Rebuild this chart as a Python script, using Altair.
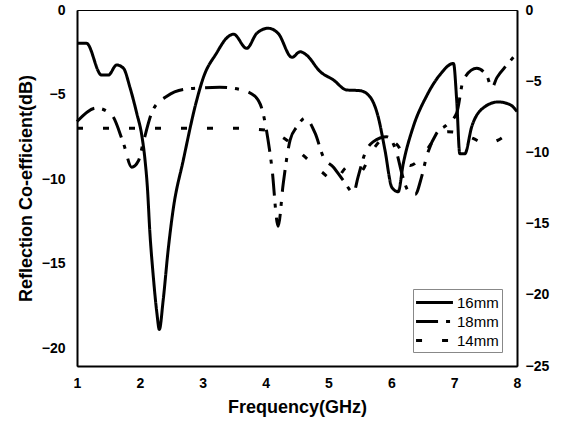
import altair as alt
import pandas as pd

# 16mm (solid)
f16 = [1.0, 1.15, 1.39, 1.5, 1.63, 1.74, 1.84, 1.95, 2.03, 2.08, 2.12, 2.16, 2.21, 2.27, 2.31,
       2.37, 2.45, 2.53, 2.69, 2.9, 3.01, 3.22, 3.38, 3.49, 3.7, 3.86, 4.04, 4.2, 4.42, 4.55,
       4.65, 4.87, 5.08, 5.29, 5.5, 5.66, 5.79, 5.9, 6.01, 6.11, 6.19, 6.35, 6.56, 6.77, 6.99,
       7.04, 7.09, 7.17, 7.28, 7.46, 7.7, 7.89, 8.0]
v16 = [-1.97, -1.97, -3.85, -3.85, -3.25, -3.45, -4.55, -6.1, -7.4, -8.8, -10.5, -13.2, -15.6, -17.9, -18.9,
       -17.2, -14.2, -11.8, -8.9, -5.4, -4.0, -2.55, -1.66, -1.43, -2.27, -1.38, -1.08, -1.38, -2.8, -2.47,
       -2.66, -3.65, -4.14, -4.73, -4.77, -5.13, -6.3, -8.3, -10.5, -10.75, -9.1, -6.9, -5.1, -3.85, -3.16,
       -5.3, -8.5, -8.5, -6.9, -5.8, -5.44, -5.6, -6.0]

# 18mm (dash-dot)
f18 = [1.0, 1.31, 1.55, 1.74, 1.87, 1.98, 2.05, 2.21, 2.43, 2.69, 3.01, 3.27, 3.59, 3.83, 3.96, 4.04,
       4.1, 4.2, 4.28, 4.39, 4.5, 4.63, 4.79, 4.92, 5.08, 5.24, 5.4, 5.47, 5.58, 5.71, 5.93, 6.09,
       6.17, 6.27, 6.38, 6.48, 6.56, 6.72, 6.88, 7.04, 7.15, 7.36, 7.52, 7.6, 7.68, 7.84, 8.0]
v18 = [-6.6, -5.8, -6.2, -7.9, -9.3, -8.9, -7.9, -5.9, -5.1, -4.7, -4.6, -4.57, -4.7, -5.1, -6.1, -7.7,
       -9.3, -12.8, -10.3, -7.7, -6.9, -6.4, -7.3, -8.7, -9.3, -10.1, -10.8, -9.9, -8.5, -7.8, -7.5, -8.5,
       -9.7, -10.7, -10.9, -9.9, -8.7, -7.3, -6.8, -6.1, -4.1, -3.45, -3.9, -4.6, -4.0, -3.25, -2.55]

# 14mm (dotted)
f14 = [1.0, 1.5, 2.0, 2.5, 3.0, 3.5, 4.0, 4.3, 4.6, 4.9, 5.1, 5.3, 5.5, 5.7, 5.9, 6.1, 6.3, 6.5,
       6.7, 6.9, 7.1, 7.3, 7.5, 7.7, 7.9, 8.0]
v14 = [-7.0, -7.0, -7.0, -7.0, -7.0, -7.0, -7.1, -7.6, -8.6, -9.6, -10.1, -9.3, -9.6, -8.3, -7.6, -8.0,
       -9.2, -8.6, -7.6, -7.2, -7.3, -7.6, -7.9, -7.7, -7.2, -7.0]

series_names = ["16mm", "18mm", "14mm"]
x_ticks = [1, 2, 3, 4, 5, 6, 7, 8]
left_ticks = [0, -5, -10, -15, -20]
right_ticks = [0, -5, -10, -15, -20, -25]

rows = []
for name, fs, vs in [("16mm", f16, v16), ("18mm", f18, v18), ("14mm", f14, v14)]:
    for f, v in zip(fs, vs):
        rows.append({"series": name, "freq": f, "val": v})
df = pd.DataFrame(rows)

FONT = "Liberation Sans"

lines = alt.Chart(df).mark_line(color="black", strokeWidth=3, interpolate="monotone").encode(
    x=alt.X("freq:Q", scale=alt.Scale(domain=[1, 8], nice=False, zero=False),
            axis=alt.Axis(values=x_ticks, title="Frequency(GHz)", labelPadding=10, titlePadding=8)),
    y=alt.Y("val:Q", scale=alt.Scale(domain=[-21.06, 0], nice=False, zero=False),
            axis=alt.Axis(values=left_ticks, title="Reflection Co-efficient(dB)", labelPadding=12,
                          titlePadding=6)),
    strokeDash=alt.StrokeDash(
        "series:N", sort=series_names,
        scale=alt.Scale(domain=series_names, range=[[1, 0], [22, 8, 4, 10], [6, 20]]),
        legend=alt.Legend(title=None, orient="none", legendX=336, legendY=279,
                          symbolType="M-2.05,0H2.05", symbolSize=324, symbolStrokeWidth=3,
                          symbolOffset=8, symbolStrokeColor="black", labelFontSize=15,
                          labelFont=FONT, labelColor="black", strokeColor="#888888",
                          fillColor="white", padding=3, rowPadding=0, labelOffset=12)),
)

right_df = pd.DataFrame({"r": [0, -25]})
right = alt.Chart(right_df).mark_point(opacity=0).encode(
    x=alt.value(0),
    y=alt.Y("r:Q", scale=alt.Scale(domain=[-25, 0], nice=False, zero=False),
            axis=alt.Axis(orient="right", values=right_ticks, title=None, labelPadding=8)),
)

chart = alt.layer(lines, right).resolve_scale(y="independent").properties(
    width=440, height=356,
    autosize=alt.AutoSizeParams(type="none"),
    padding={"left": 77, "top": 10, "right": 45, "bottom": 57},
).configure_view(stroke="black", strokeWidth=1).configure_axis(
    domainColor="black", domainWidth=2, ticks=False, grid=False,
    labelFont=FONT, labelFontWeight="bold", labelFontSize=14, labelColor="black",
    labelFlush=False, labelOverlap=False,
    titleFont=FONT, titleFontWeight="bold", titleFontSize=18, titleColor="black",
)

chart.save("out.html", embed_options={"renderer": "svg", "actions": False})
